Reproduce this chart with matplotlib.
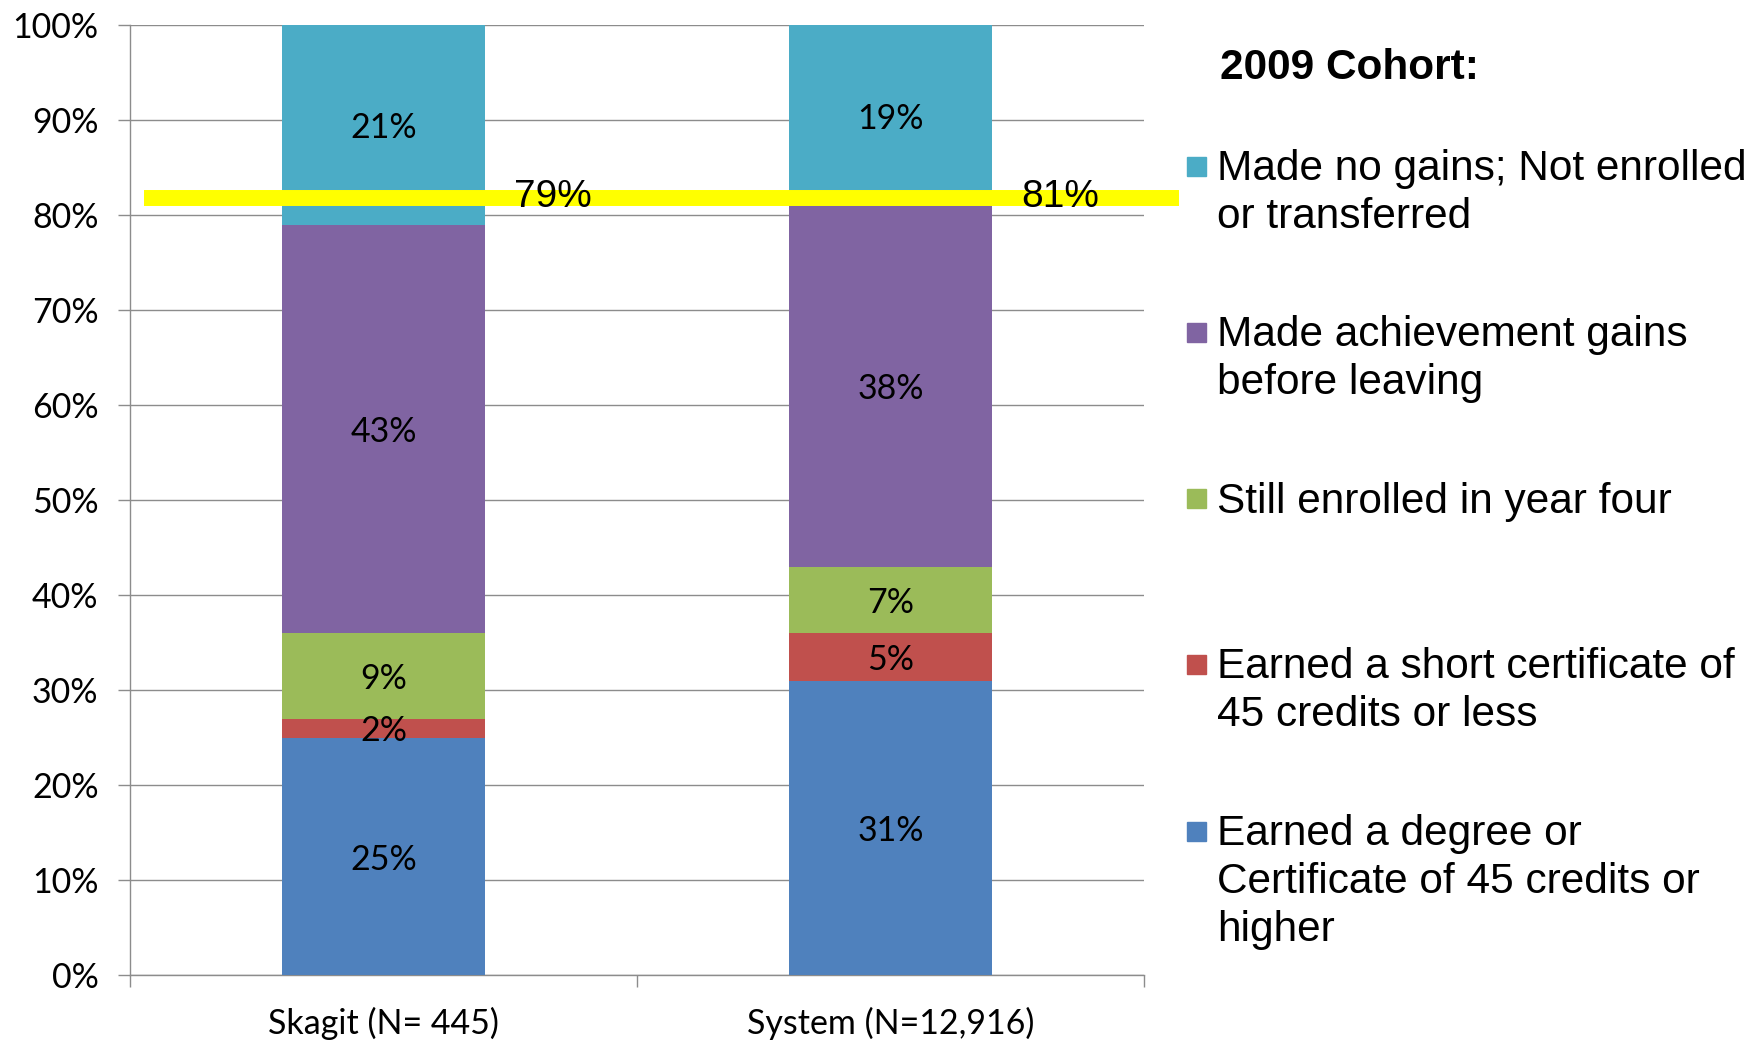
import matplotlib
matplotlib.use("Agg")
import matplotlib.pyplot as plt
from matplotlib.patches import Rectangle

# data
groups = ["Skagit (N= 445)", "System (N=12,916)"]
degree = [25, 31]
short_cert = [2, 5]
still_enrolled = [9, 7]
achievement = [43, 38]
no_gains = [21, 19]
line_level = 81.8
line_labels = ["79%", "81%"]

series = [degree, short_cert, still_enrolled, achievement, no_gains]
colors = ["#4F81BD", "#C0504D", "#9BBB59", "#8064A2", "#4BACC6"]
legend_labels = [
    "Earned a degree or\nCertificate of 45 credits or\nhigher",
    "Earned a short certificate of\n45 credits or less",
    "Still enrolled in year four",
    "Made achievement gains\nbefore leaving",
    "Made no gains; Not enrolled\nor transferred",
]

fig = plt.figure(figsize=(17.61, 10.42), dpi=100)
ax = fig.add_axes([0.0738, 0.0643, 0.5758, 0.9117])

x = list(range(len(groups)))
bottom = [0, 0]
for vals, col in zip(series, colors):
    ax.bar(x, vals, 0.4, bottom=bottom, color=col, zorder=3)
    for i, v in enumerate(vals):
        ax.text(x[i], bottom[i] + v / 2 - 0.35, f"{v}%", ha="center", va="center",
                fontsize=24.5, family="Lato", zorder=5)
    bottom = [b + v for b, v in zip(bottom, vals)]

# yellow marker line
ax.plot([-0.472, 1.569], [line_level, line_level], color="#FFFF00", lw=11.5,
        solid_capstyle="butt", clip_on=False, zorder=4)
for i, lab in enumerate(line_labels):
    ax.text(x[i] + 0.335, line_level + 0.1, lab, ha="center", va="center",
            fontsize=28, family="Liberation Sans", zorder=6)

ax.set_xlim(-0.5, 1.5)
ax.set_ylim(0, 100)
ax.set_yticks(range(0, 101, 10))
ax.set_yticklabels([f"{t}%" for t in range(0, 101, 10)], family="Lato", fontsize=24.5)
ax.yaxis.grid(True, color="#8c8c8c", lw=1.0, zorder=0)
ax.tick_params(axis="y", length=8.6, width=1.0, color="#8c8c8c", pad=14)

ax.set_xticks([-0.5, 0.5, 1.5])
ax.set_xticklabels([])
ax.set_xticks(x, minor=True)
ax.set_xticklabels(groups, minor=True, family="Lato", fontsize=24.5)
ax.tick_params(axis="x", which="major", length=8.6, width=1.0, color="#8c8c8c")
ax.tick_params(axis="x", which="minor", length=0, pad=23)

for s in ["top", "right"]:
    ax.spines[s].set_visible(False)
for s in ["left", "bottom"]:
    ax.spines[s].set_color("#8c8c8c")
    ax.spines[s].set_linewidth(1.0)

# legend drawn by hand to match the layout
fig.text(1220 / 1761, 1 - 68 / 1042, "2009 Cohort:", fontsize=30.5, weight="bold",
         family="Liberation Sans", va="center", ha="left")
marker_y = [831, 664, 499, 332, 166]
for lab, col, my in zip(legend_labels, colors, marker_y):
    sq = 19
    fig.patches.append(Rectangle((1187 / 1761, 1 - (my + sq / 2) / 1042), sq / 1761, sq / 1042,
                                 transform=fig.transFigure, color=col))
    fig.text(1217 / 1761, 1 - (my - 17) / 1042, lab, fontsize=30.5, family="Liberation Sans",
             va="top", ha="left", linespacing=1.26)

fig.savefig("out.png", dpi=100)
